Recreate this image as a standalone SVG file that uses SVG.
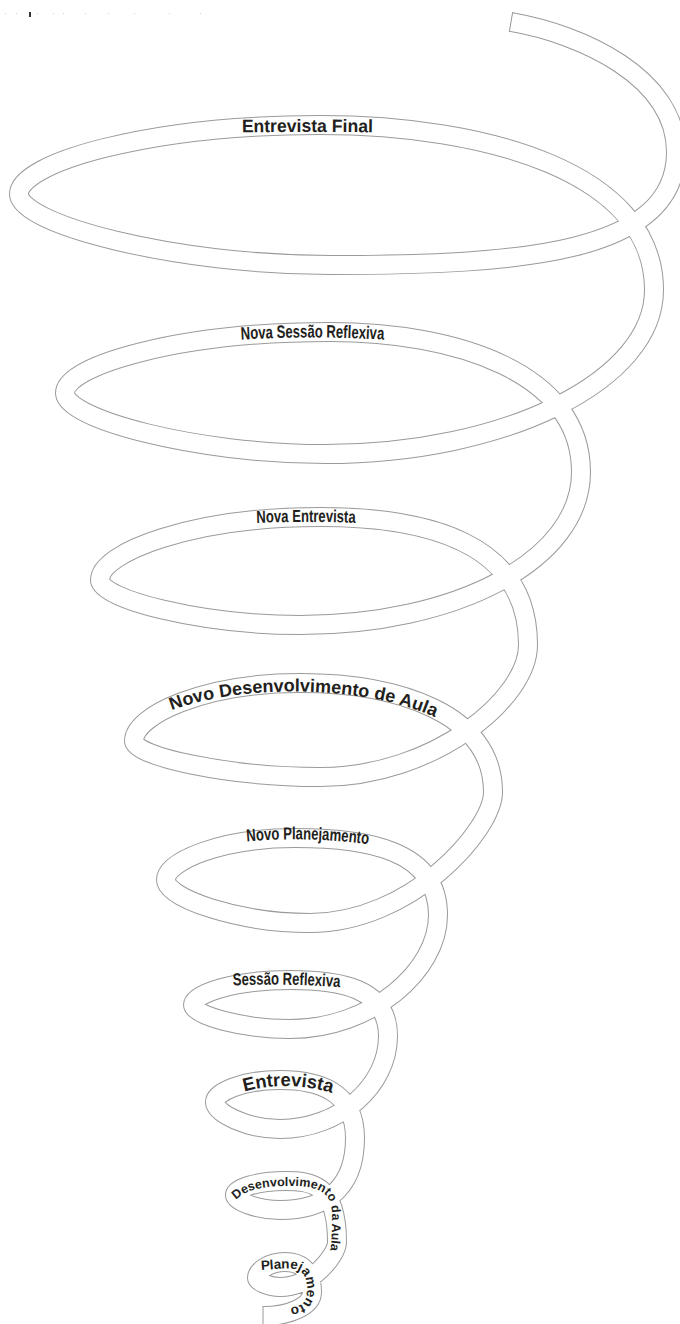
<svg xmlns="http://www.w3.org/2000/svg" width="680" height="1324" viewBox="0 0 680 1324">
<style>
.edge{fill:none;stroke:#9a9a9a;stroke-width:20;stroke-linejoin:round}
.band{fill:none;stroke:#ffffff;stroke-width:18;stroke-linejoin:round}
.cap{stroke:#9a9a9a;stroke-width:1;fill:none}
.lbl{font-family:"Liberation Sans",Arial,sans-serif;font-weight:bold;fill:#231f20}
.dot{fill:#d0d0d0}
</style>
<defs>
<path id="spiral" d="M 511,22 C 581,34 676,77 676,152 C 676,253.7 520.3,265 330,265 C 174.5,265 19,223.8 19,194 C 19,163.6 145.4,125 320,125 C 487,125 654,172.9 654,290 C 654,380.5 506,454 325,454 C 195,454 65,418.6 65,393 C 65,366.2 176.3,332 330,332 C 455.5,332 581,372.5 581,472 C 581,561.2 454.6,625 300,625 C 200,625 100,598.9 100,580 C 100,552.3 192.4,517 320,517 C 424,517 528,540.7 528,645 C 528,698.5 434.4,777 320,777 C 227,777 134,756.1 134,741 C 134,715.5 203.7,683 300,683 C 396.5,683 493,713 493,792 C 493,830.1 410.7,923 310,923 C 238,923 166,898.1 166,880 C 166,861.5 220.2,838 295,838 C 366.5,838 438,849.6 438,915 C 438,970.9 371.4,1029 290,1029 C 241.5,1029 193,1015.1 193,1005 C 193,994 233.7,980 290,980 C 339,980 388,987.4 388,1036 C 388,1085.9 339.4,1129 280,1129 C 247.5,1129 215,1113.3 215,1102 C 215,1092.3 242.3,1080 280,1080 C 317.5,1080 355,1090.6 355,1138 C 355,1192 321.25,1210 280,1210 C 257.5,1210 235,1201.3 235,1195 C 235,1188.8 256,1181 285,1181 C 311,1181 337,1183.4 337,1242 C 337,1255.5 311.4,1287 280,1287 C 268.5,1287 257,1281.4 257,1278 C 257,1271 268.8,1262 285,1262 C 298.5,1262 312,1268 312,1292 C 312,1306 290,1316 263,1316"/>
<path id="tp1" d="M 227,132.5 Q 307,131.5 388,132.5"/>
<path id="tp2" d="M 222,341 Q 312,334 403,341"/>
<path id="tp3" d="M 216,525 Q 306,519 396,525"/>
<path id="tp4" d="M 143,725 C 203,682 383,676 463,733"/>
<path id="tp5" d="M 217,845 Q 307,832 398,849"/>
<path id="tp6" d="M 196,988 Q 286,980 377,991"/>
<path id="tp7" d="M 228,1097 Q 288,1074 348,1099"/>
<path id="tp8" d="M 236,1200 C 246,1189 266,1186 288,1186 C 315,1186 332,1190 332,1214 C 332,1235 332,1250 326,1265"/>
<path id="tp9" d="M 261,1270 C 280,1269 296,1266 302,1273 C 308,1280 308,1292 305,1300 C 301,1308 290,1308 264,1308"/>
</defs>
<rect x="0" y="0" width="680" height="1324" fill="#ffffff"/>
<g id="marks">
<rect x="29" y="12" width="2" height="5" fill="#333333"/>
<rect class="dot" x="5" y="13" width="1" height="1"/>
<rect class="dot" x="16" y="13" width="1" height="1"/>
<rect class="dot" x="37" y="13" width="1" height="1"/>
<rect class="dot" x="53" y="13" width="1" height="1"/>
<rect class="dot" x="63" y="13" width="1" height="1"/>
<rect class="dot" x="85" y="13" width="1" height="1"/>
<rect class="dot" x="108" y="13" width="1" height="1"/>
<rect class="dot" x="134" y="13" width="1" height="1"/>
<rect class="dot" x="169" y="13" width="1" height="1"/>
<rect class="dot" x="200" y="13" width="1" height="1"/>
</g>
<g id="connectors">
<use href="#spiral" class="edge"/>
<use href="#spiral" class="band"/>
<line class="cap" x1="512.7" y1="12.1" x2="509.3" y2="31.9"/>
<line class="cap" x1="263" y1="1306" x2="263" y2="1326"/>
</g>
<g id="node-entrevista-final"><text class="lbl" font-size="18" text-anchor="middle"><textPath href="#tp1" startOffset="50%" textLength="131" lengthAdjust="spacingAndGlyphs">Entrevista Final</textPath></text></g>
<g id="node-nova-sessao-reflexiva"><text class="lbl" font-size="18" text-anchor="middle"><textPath href="#tp2" startOffset="50%" textLength="143" lengthAdjust="spacingAndGlyphs">Nova Sessão Reflexiva</textPath></text></g>
<g id="node-nova-entrevista"><text class="lbl" font-size="17.5" text-anchor="middle"><textPath href="#tp3" startOffset="50%" textLength="99" lengthAdjust="spacingAndGlyphs">Nova Entrevista</textPath></text></g>
<g id="node-novo-desenvolvimento"><text class="lbl" font-size="18" text-anchor="middle"><textPath href="#tp4" startOffset="50%">Novo Desenvolvimento de Aula</textPath></text></g>
<g id="node-novo-planejamento"><text class="lbl" font-size="17.5" text-anchor="middle"><textPath href="#tp5" startOffset="50%" textLength="122" lengthAdjust="spacingAndGlyphs">Novo Planejamento</textPath></text></g>
<g id="node-sessao-reflexiva"><text class="lbl" font-size="17.5" text-anchor="middle"><textPath href="#tp6" startOffset="50%" textLength="107" lengthAdjust="spacingAndGlyphs">Sessão Reflexiva</textPath></text></g>
<g id="node-entrevista"><text class="lbl" font-size="18.5" text-anchor="middle"><textPath href="#tp7" startOffset="50%" textLength="89" lengthAdjust="spacingAndGlyphs">Entrevista</textPath></text></g>
<g id="node-desenvolvimento-da-aula"><text class="lbl" font-size="12.5"><textPath href="#tp8">Desenvolvimento da Aula</textPath></text></g>
<g id="node-planejamento"><text class="lbl" font-size="13.5"><textPath href="#tp9">Planejamento</textPath></text></g>
</svg>
